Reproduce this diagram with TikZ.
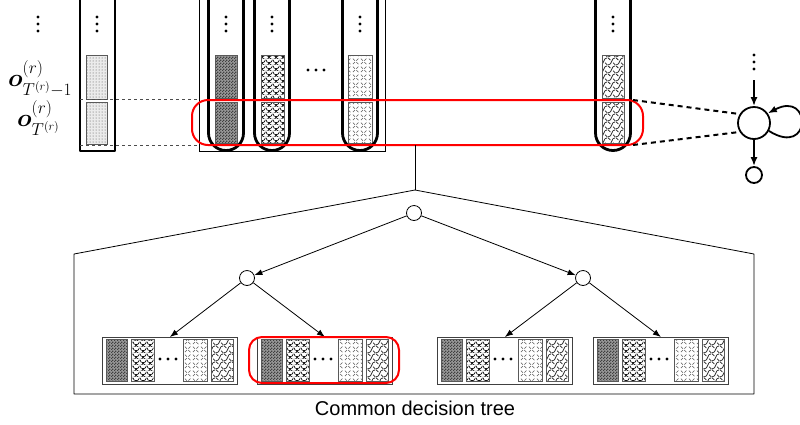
\documentclass[tikz,border=0pt]{standalone}
\usepackage{amsmath,bm}
\usepackage{fontspec}
\newfontfamily\capfont{Liberation Sans}
\usetikzlibrary{patterns,patterns.meta,arrows.meta}

% fill textures for the observation blocks
\tikzdeclarepattern{
  name=finechecker, type=uncolored,
  bounding box={(0pt,0pt) and (3pt,3pt)},
  tile size={(3pt,3pt)},
  code={
    \fill (0pt,0pt) rectangle (1.5pt,1.5pt);
    \fill (1.5pt,1.5pt) rectangle (3pt,3pt);
  }
}
\tikzdeclarepattern{
  name=scales, type=uncolored,
  bounding box={(0pt,0pt) and (7pt,6pt)},
  tile size={(7pt,6pt)},
  code={
    \draw[line width=0.7pt] (0pt,6pt) arc[start angle=180,end angle=360,radius=3.5pt];
    \draw[line width=0.7pt] (-3.5pt,3pt) arc[start angle=180,end angle=360,radius=3.5pt];
    \draw[line width=0.7pt] (3.5pt,3pt) arc[start angle=180,end angle=360,radius=3.5pt];
  }
}
\tikzdeclarepattern{
  name=diagdash, type=uncolored,
  bounding box={(0pt,0pt) and (8pt,8pt)},
  tile size={(8pt,8pt)},
  code={
    \draw[line width=0.6pt] (1pt,1pt) -- (3.2pt,3.2pt);
    \draw[line width=0.6pt] (4.8pt,3.2pt) -- (7pt,1pt);
    \draw[line width=0.6pt] (1pt,7pt) -- (3.2pt,4.8pt);
    \draw[line width=0.6pt] (4.8pt,4.8pt) -- (7pt,7pt);
  }
}
\tikzdeclarepattern{
  name=weave, type=uncolored,
  bounding box={(0pt,0pt) and (8pt,8pt)},
  tile size={(8pt,8pt)},
  code={
    \draw[line width=0.8pt] (0pt,0pt) .. controls (5pt,0pt) and (3pt,8pt) .. (8pt,8pt);
    \draw[line width=0.8pt] (0pt,8pt) -- (2.5pt,5.5pt);
    \draw[line width=0.8pt] (5.5pt,2.5pt) -- (8pt,0pt);
  }
}

\tikzset{
  tube/.style={line width=2.8pt, line join=round},
  barframe/.style={draw=black!65, line width=0.6pt},
  checkbar/.style={barframe, preaction={fill=black!40}, pattern=finechecker, pattern color=black!75},
  scalebar/.style={barframe, preaction={fill=white}, pattern=scales, pattern color=black},
  dashbar/.style={barframe, preaction={fill=white}, pattern=diagdash, pattern color=black!65},
  weavebar/.style={barframe, preaction={fill=white}, pattern=weave, pattern color=black!85},
  dotbar/.style={barframe, preaction={fill=black!8}, pattern=dots, pattern color=black!70},
  leafframe/.style={draw=black!75, line width=0.8pt, rectangle, minimum width=135pt,
    minimum height=47pt, inner sep=0pt},
  treenode/.style={circle, draw, line width=0.8pt, minimum size=15pt, inner sep=0pt},
  treeedge/.style={line width=0.8pt, -{Latex[length=8pt,width=6pt]}},
  hmmstate/.style={circle, draw, line width=1.8pt, inner sep=0pt},
  hmmedge/.style={line width=1.8pt, -{Latex[length=9pt,width=7pt]}},
  highlight/.style={draw=red, line width=2pt},
  mathlabel/.style={inner sep=0pt, font=\fontsize{23}{27}\selectfont},
}

% three stacked dots
\newcommand\stackdots[2]{%
  \foreach \k in {0,1,2} \fill (#1,{#2+7*\k}) circle[radius=1.6];}
% three dots in a row
\newcommand\rowdots[3]{%
  \foreach \k in {0,1,2} \fill ({#1+#3*\k},#2) circle[radius=1.6];}
% tube with a rounded bottom, centred at x
\newcommand\roundtube[1]{%
  \draw[tube] ({#1-17.5},-5) -- ({#1-17.5},133)
    arc[start angle=180, end angle=0, radius=17.5] -- ({#1+17.5},-5);}
% leaf of the decision tree, left edge at x
\newcommand\leafbox[2]{%
  \node[leafframe, anchor=north west] (#2) at (#1,337) {};
  \draw[checkbar] ({#1+4},339) rectangle ({#1+25},381);
  \draw[scalebar] ({#1+29},339) rectangle ({#1+52},381);
  \rowdots{#1+58}{359}{8}
  \draw[dashbar] ({#1+81},339) rectangle ({#1+105},381);
  \draw[weavebar] ({#1+109},339) rectangle ({#1+131},381);}

\begin{document}
\begin{tikzpicture}[x=1pt, y=-1pt]
\useasboundingbox (0,0) rectangle (800,424);
\clip (0,0) rectangle (800,424);

% ---- observation sequence of one stream ----
\stackdots{38}{17}
\node[mathlabel, anchor=base west] (lab1) at (8,86) {$\boldsymbol{o}^{(r)}_{T^{(r)}-1}$};
\node[mathlabel, anchor=base west] (lab2) at (17,126) {$\boldsymbol{o}^{(r)}_{T^{(r)}}$};
\draw[dotbar] (86,55) rectangle (107,99);
\draw[dotbar] (86,102) rectangle (107,144);
\draw[tube] (80,-5) -- (80,151) -- (115,151) -- (115,-5);
\stackdots{97}{17}

% ---- streams of the current frame ----
\draw[line width=0.8pt] (199,-5) -- (199,151) -- (385,151) -- (385,-5);
\coordinate (gl1) at (199,99);
\coordinate (gl2) at (199,145);
\coordinate (tl1) at (80,99);
\coordinate (tl2) at (80,145);
\draw[black!70, line width=1pt, dash pattern=on 3pt off 3pt] (tl1) -- (gl1);
\draw[black!70, line width=1pt, dash pattern=on 3pt off 3pt] (tl2) -- (gl2);

\draw[checkbar] (215,55) rectangle (237,98);
\draw[checkbar] (215,102) rectangle (237,143);
\roundtube{226}
\stackdots{226}{17}

\draw[scalebar] (261,55) rectangle (284,98);
\draw[scalebar] (261,102) rectangle (284,143);
\roundtube{272}
\stackdots{272}{17}

\rowdots{308}{70}{8}

\draw[dashbar] (348,55) rectangle (372,98);
\draw[dashbar] (348,102) rectangle (372,143);
\roundtube{360}
\stackdots{360}{17}

\draw[weavebar] (602,55) rectangle (624,98);
\draw[weavebar] (602,102) rectangle (624,143);
\roundtube{613}
\stackdots{613}{17}

% frame selected across all streams
\draw[highlight, rounded corners=16pt] (192,100) rectangle (643,145);

% ---- HMM state ----
\node[hmmstate, minimum size=32pt] (state) at (754,123) {};
\node[hmmstate, minimum size=16pt] (out) at (754,175) {};
\stackdots{754}{55}
\coordinate (in) at (754,80);
\draw[hmmedge] (in) -- (state);
\draw[hmmedge] (state) -- (out);
\draw[hmmedge] (state.-28) .. controls (812,158) and (812,90) .. (state.35);
\coordinate (ft1) at (633,100);
\coordinate (ft2) at (633,145);
\draw[line width=2pt, dash pattern=on 5pt off 4pt] (ft1) -- (state.148);
\draw[line width=2pt, dash pattern=on 5pt off 4pt] (ft2) -- (state.212);

% ---- common decision tree ----
\coordinate (stem) at (415,145);
\coordinate (apex) at (415,190);
\draw[line width=0.8pt] (stem) -- (apex);
\draw[line width=0.8pt, line join=round] (apex) -- (74,254) -- (74,394) -- (754,394) -- (754,254) -- cycle;

\node[treenode] (root) at (414,213) {};
\node[treenode] (lc) at (247,278) {};
\node[treenode] (rc) at (583,278) {};

\leafbox{102}{leafA}
\leafbox{257}{leafB}
\leafbox{437}{leafC}
\leafbox{593}{leafD}

\draw[treeedge] (root) -- (lc);
\draw[treeedge] (root) -- (rc);
\draw[treeedge] (lc) -- (leafA.north);
\draw[treeedge] (lc) -- (leafB.north);
\draw[treeedge] (rc) -- (leafC.north);
\draw[treeedge] (rc) -- (leafD.north);

\draw[highlight, rounded corners=13pt] (249,337) rectangle (399,383);

\node[anchor=base, inner sep=0pt, font=\capfont\fontsize{20}{24}\selectfont] (caption) at (415,415) {Common decision tree};
\end{tikzpicture}
\end{document}
